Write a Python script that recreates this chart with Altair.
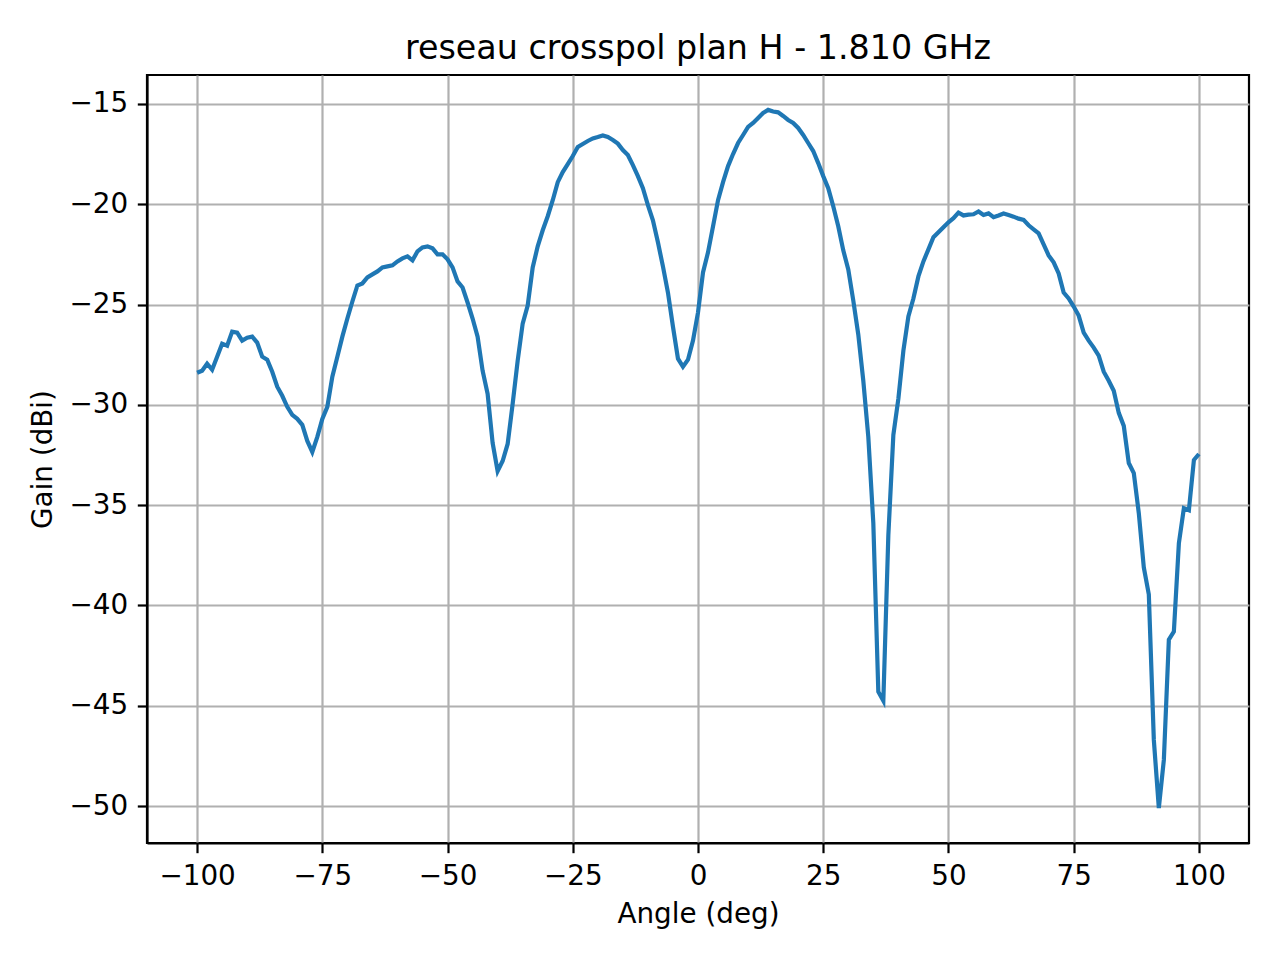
import altair as alt
import pandas as pd

angles = list(range(-100, 101))
gain = [
    -28.4, -28.3, -27.95, -28.25, -27.6, -26.95, -27.05, -26.35, -26.4, -26.8,
    -26.65, -26.6, -26.9, -27.6, -27.75, -28.35, -29.1, -29.55, -30.1, -30.5,
    -30.7, -31.0, -31.8, -32.35, -31.6, -30.7, -30.1, -28.6, -27.6, -26.6,
    -25.7, -24.85, -24.05, -23.95, -23.65, -23.5, -23.35, -23.15, -23.1, -23.05,
    -22.85, -22.7, -22.6, -22.8, -22.35, -22.15, -22.1, -22.2, -22.5, -22.5,
    -22.75, -23.15, -23.85, -24.15, -24.9, -25.7, -26.6, -28.3, -29.45, -31.9,
    -33.3, -32.8, -31.95, -29.95, -27.8, -25.95, -25.05, -23.15, -22.1, -21.3,
    -20.6, -19.8, -18.9, -18.4, -18.0, -17.6, -17.15, -17.0, -16.85, -16.72,
    -16.65, -16.57, -16.65, -16.8, -16.98, -17.3, -17.55, -18.05, -18.6, -19.2,
    -20.05, -20.8, -21.9, -23.1, -24.4, -26.1, -27.7, -28.1, -27.75, -26.8,
    -25.4,
    -23.4, -22.4, -21.1, -19.8, -18.9, -18.1, -17.5, -16.95, -16.55, -16.15,
    -15.95, -15.7, -15.45, -15.3, -15.38, -15.42, -15.6, -15.8, -15.95, -16.2,
    -16.55, -16.95, -17.35, -17.95, -18.6, -19.2, -20.1, -21.1, -22.3, -23.25,
    -24.8, -26.5, -28.8, -31.6, -35.9, -44.3, -44.75, -36.5, -31.5, -29.7,
    -27.3, -25.6, -24.7, -23.6, -22.85, -22.25, -21.65, -21.4, -21.15, -20.9,
    -20.7, -20.42, -20.56, -20.52, -20.5, -20.36, -20.54, -20.46, -20.65, -20.56,
    -20.46, -20.54, -20.62, -20.72, -20.78, -21.05, -21.25, -21.45, -22.0, -22.55,
    -22.9, -23.45, -24.4, -24.7, -25.1, -25.55, -26.4, -26.8, -27.15, -27.55,
    -28.35, -28.8, -29.3, -30.4, -31.05, -32.9, -33.4, -35.4, -38.1, -39.45,
    -46.7, -50.1, -47.7, -41.7, -41.3, -36.9, -35.15, -35.25, -32.75, -32.45,
]
x_ticks = [-100, -75, -50, -25, 0, 25, 50, 75, 100]
y_ticks = [-50, -45, -40, -35, -30, -25, -20, -15]

df = pd.DataFrame({"angle": angles, "gain": gain})

FONT = "DejaVu Sans"
minus_expr = "replace(datum.label, '-', '\u2212')"

common_axis = dict(
    labelFont=FONT, labelFontSize=27.8, labelColor="black",
    titleFont=FONT, titleFontSize=27.8, titleColor="black", titleFontWeight="normal",
    tickSize=9.7, tickWidth=2.2, tickColor="black",
    domain=True, domainColor="black", domainWidth=2.2,
    grid=True, gridColor="#b0b0b0", gridWidth=2.2,
    labelPadding=9.7, labelExpr=minus_expr, labelFlush=False, labelOverlap=False,
)

chart = alt.Chart(df).mark_line(color="#1f77b4", strokeWidth=4.2).encode(
    x=alt.X("angle:Q", scale=alt.Scale(domain=[-110, 110], nice=False, zero=False),
            axis=alt.Axis(values=x_ticks, title="Angle (deg)", titleY=79,
                          titleBaseline="alphabetic", **common_axis)),
    y=alt.Y("gain:Q", scale=alt.Scale(domain=[-51.84, -13.56], nice=False, zero=False),
            axis=alt.Axis(values=y_ticks, title="Gain (dBi)", titleX=-96, titleY=384,
                          titleBaseline="alphabetic", titleAngle=270, **common_axis)),
).properties(
    width=1102, height=768,
    autosize="none",
    background="white",
    padding={"left": 139, "top": 67, "right": 23, "bottom": 109},
    title=alt.TitleParams(
        "reseau crosspol plan H - 1.810 GHz", font=FONT, fontSize=33.3,
        fontWeight="normal", color="black", anchor="middle",
        baseline="alphabetic", offset=18, dy=35,
    ),
).configure_view(stroke="black", strokeWidth=2.2, fill="white")

chart.save("out.html", embed_options={"renderer": "svg", "actions": False})
